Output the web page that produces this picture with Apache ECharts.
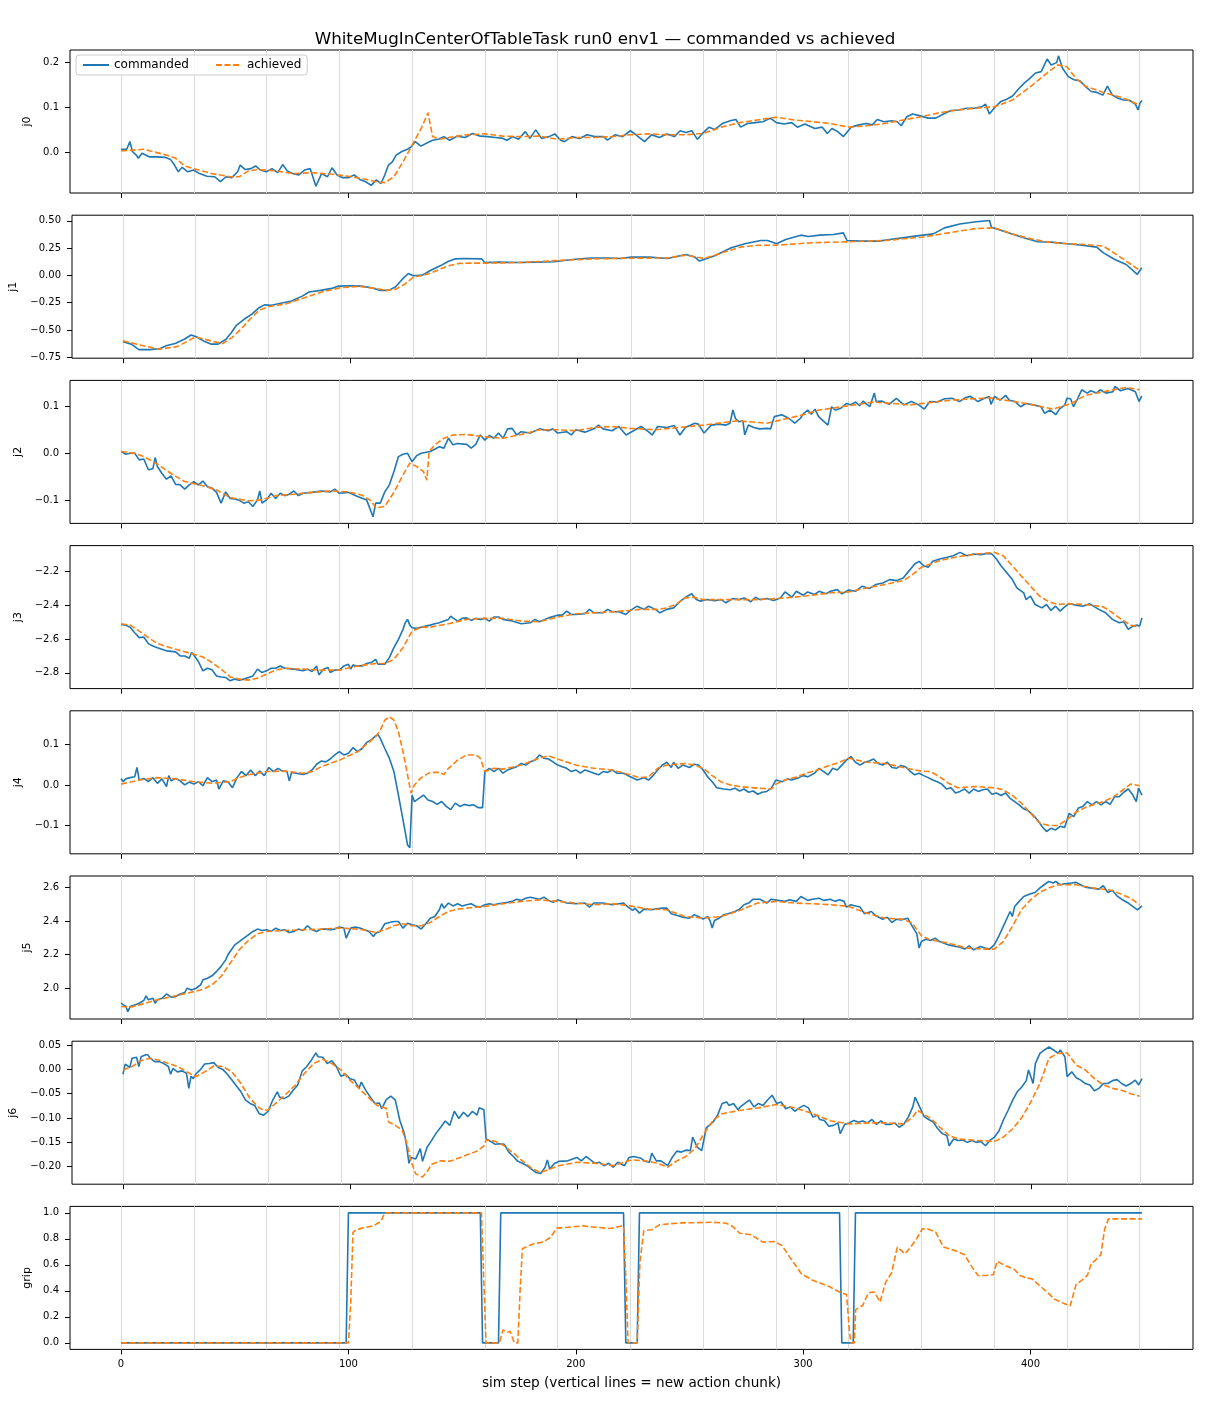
<!DOCTYPE html>
<html>
<head>
<meta charset="utf-8">
<title>WhiteMugInCenterOfTableTask run0 env1 — commanded vs achieved</title>
<script src="https://cdn.jsdelivr.net/npm/echarts@6/dist/echarts.min.js"></script>
<style>
  html, body { margin: 0; padding: 0; background: #fff; }
  #chart { width: 1210px; height: 1408px; }
</style>
</head>
<body>
<div id="chart"></div>
<script>
// sim steps where a new action chunk starts
const chunkStarts = [0, 32, 64, 96, 128, 160, 192, 224, 256, 288, 320, 352, 384, 416, 448];
const xTicks = [0, 100, 200, 300, 400];

// [sim step, value]
const j0Cmd = [[0,0.007],[2.5,0.007],[3.9,0.024],[5,0.002],[6.7,-0.006],[7.6,-0.013],[9.2,-0.002],[12.6,-0.01],[16,-0.01],[19.3,-0.011],[21.8,-0.016],[23.5,-0.028],[25.2,-0.043],[26.9,-0.033],[29.4,-0.043],[31.9,-0.039],[34.5,-0.047],[37.8,-0.053],[41.2,-0.054],[43.7,-0.065],[46.2,-0.054],[48.7,-0.056],[51.3,-0.043],[52.4,-0.028],[54.6,-0.038],[57.1,-0.036],[59.2,-0.03],[61.3,-0.039],[63.9,-0.043],[66.4,-0.036],[68.9,-0.045],[71.1,-0.027],[73.1,-0.041],[75.6,-0.047],[78.2,-0.05],[80.7,-0.039],[83.2,-0.036],[85.7,-0.075],[88.2,-0.047],[90.8,-0.054],[92.8,-0.034],[95,-0.05],[97.5,-0.056],[100,-0.056],[102.5,-0.05],[105,-0.06],[107.6,-0.065],[110,-0.073],[112.3,-0.061],[114.3,-0.069],[116,-0.05],[117.6,-0.028],[119.3,-0.021],[121,-0.006],[123.5,0.002],[126,0.007],[127.7,0.013],[129.4,0.024],[131.9,0.014],[134.5,0.021],[137,0.027],[139.5,0.029],[142,0.035],[144.5,0.027],[147.9,0.036],[151.3,0.033],[154.6,0.042],[158,0.036],[161.3,0.035],[164.7,0.033],[168,0.031],[169.7,0.027],[172.3,0.035],[174.8,0.029],[177.8,0.046],[179.8,0.031],[182.4,0.05],[184.9,0.031],[188.2,0.035],[190.8,0.041],[193.3,0.027],[195,0.024],[198.3,0.035],[201.7,0.031],[205,0.039],[208.4,0.035],[212.2,0.035],[213.9,0.027],[217.2,0.039],[220.6,0.035],[224,0.048],[226.5,0.039],[230.2,0.024],[233.3,0.039],[236.7,0.033],[240,0.041],[243.4,0.035],[245.9,0.048],[248.5,0.044],[251,0.048],[253.5,0.029],[256.1,0.044],[258.6,0.056],[261.1,0.051],[264.5,0.064],[267.9,0.07],[270.4,0.073],[272.5,0.056],[275.5,0.064],[278.9,0.066],[282.3,0.068],[285.6,0.076],[288.2,0.066],[291.6,0.063],[294.9,0.066],[297.5,0.056],[300.8,0.063],[305.1,0.053],[308.4,0.056],[310.6,0.042],[312.7,0.053],[315.2,0.046],[317.7,0.035],[321.1,0.056],[324.5,0.061],[327.9,0.064],[330.4,0.061],[332.6,0.073],[335.5,0.068],[338.9,0.07],[341.4,0.068],[343.1,0.059],[345.6,0.079],[348.1,0.085],[351.5,0.081],[354.9,0.076],[358.3,0.076],[361.7,0.085],[365,0.093],[368.4,0.094],[371.8,0.098],[375.2,0.098],[378.5,0.101],[380.2,0.107],[381.9,0.085],[384.5,0.101],[387,0.113],[389.5,0.118],[392.1,0.125],[394.6,0.14],[397.1,0.153],[399.7,0.164],[402.2,0.176],[404.7,0.179],[407.3,0.207],[409,0.194],[411.5,0.199],[412.3,0.214],[414,0.187],[416.6,0.168],[419.1,0.161],[421.6,0.159],[424.2,0.146],[426.7,0.135],[429.2,0.133],[431.8,0.127],[433.8,0.147],[436,0.127],[438.5,0.12],[441,0.116],[443.6,0.115],[446.1,0.107],[447.3,0.094],[448.1,0.109],[449,0.115]];
const j0Ach = [[0,0.003],[10,0.007],[20,-0.006],[24,-0.013],[28,-0.03],[32,-0.036],[40,-0.047],[48,-0.054],[52,-0.054],[56,-0.041],[60,-0.038],[68,-0.041],[76,-0.047],[84,-0.045],[92,-0.048],[100,-0.053],[108,-0.06],[112,-0.065],[116,-0.067],[120,-0.054],[124,-0.021],[128,0.016],[132,0.053],[135,0.088],[137,0.035],[140,0.029],[144,0.033],[152,0.039],[160,0.041],[168,0.036],[176,0.035],[184,0.036],[192,0.029],[200,0.033],[208,0.033],[216,0.035],[224,0.039],[232,0.041],[240,0.039],[248,0.039],[256,0.042],[264,0.056],[272,0.066],[280,0.072],[288,0.078],[296,0.072],[304,0.068],[312,0.064],[320,0.056],[328,0.059],[336,0.064],[344,0.072],[352,0.079],[360,0.088],[368,0.094],[376,0.098],[384,0.101],[392,0.116],[400,0.146],[408,0.179],[412,0.194],[416,0.19],[420,0.164],[424,0.147],[432,0.133],[440,0.122],[448,0.105]];

const j1Cmd = [[0,-0.607],[3.7,-0.63],[7,-0.68],[12,-0.68],[16.5,-0.67],[19,-0.645],[23,-0.625],[27,-0.585],[30,-0.546],[32.6,-0.565],[36,-0.607],[39,-0.63],[42,-0.63],[45.4,-0.585],[47.8,-0.524],[50,-0.457],[53.5,-0.40],[56.7,-0.357],[60,-0.296],[62.3,-0.27],[65.5,-0.274],[69.5,-0.256],[74.3,-0.235],[79,-0.19],[82,-0.152],[87,-0.137],[92,-0.119],[95,-0.098],[100,-0.095],[105,-0.098],[109.6,-0.113],[113,-0.137],[117,-0.137],[120,-0.107],[123,-0.037],[125.7,0.018],[128,-0.003],[132,0.003],[135,0.04],[140,0.09],[143,0.125],[146.5,0.152],[150,0.155],[158,0.152],[159.4,0.119],[165.8,0.122],[174,0.119],[182,0.122],[190,0.125],[198,0.146],[206,0.16],[214,0.16],[219,0.155],[224,0.168],[232,0.168],[240,0.155],[248,0.192],[252,0.168],[254,0.131],[256,0.146],[261,0.183],[268,0.253],[274,0.29],[281,0.32],[284,0.32],[288,0.29],[292,0.33],[298.7,0.369],[302,0.357],[307,0.369],[313,0.375],[317.4,0.39],[319,0.32],[324.8,0.314],[333,0.314],[341,0.338],[349,0.36],[357,0.381],[362,0.436],[368.7,0.472],[375,0.49],[381.8,0.503],[382.6,0.442],[388,0.405],[394.8,0.36],[398,0.338],[403,0.308],[409,0.305],[416,0.29],[422.5,0.277],[429,0.259],[432,0.207],[437,0.146],[442,0.10],[446.9,0.01],[448.9,0.07]];
const j1Ach = [[0,-0.60],[8,-0.64],[16,-0.677],[24,-0.652],[32,-0.564],[40,-0.607],[44,-0.625],[48,-0.57],[52,-0.494],[56,-0.40],[60,-0.32],[64,-0.287],[72,-0.26],[80,-0.204],[88,-0.149],[96,-0.113],[104,-0.10],[112,-0.122],[116,-0.137],[120,-0.128],[124,-0.082],[128,-0.015],[132,0.0],[136,0.024],[140,0.061],[144,0.091],[148,0.11],[152,0.113],[160,0.113],[176,0.119],[192,0.137],[208,0.152],[224,0.158],[240,0.16],[248,0.186],[256,0.155],[264,0.207],[272,0.259],[280,0.277],[288,0.277],[304,0.30],[320,0.308],[336,0.32],[352,0.35],[368,0.405],[376,0.43],[384,0.436],[392,0.38],[400,0.335],[408,0.305],[416,0.29],[424,0.284],[432,0.268],[440,0.16],[448,0.046]];

const j2Cmd = [[0,0.004],[2,-0.002],[4,0],[6,0],[8,-0.014],[10,-0.012],[12,-0.035],[14,-0.033],[15,-0.009],[16,-0.028],[18,-0.043],[20,-0.055],[22,-0.048],[24,-0.066],[26,-0.067],[28,-0.076],[30,-0.067],[32,-0.06],[34,-0.067],[36,-0.059],[38,-0.071],[40,-0.074],[42,-0.083],[44,-0.106],[46,-0.082],[48,-0.096],[50,-0.097],[52,-0.10],[54,-0.106],[56,-0.103],[58,-0.113],[60,-0.099],[61,-0.08],[62,-0.106],[64,-0.099],[66,-0.085],[68,-0.096],[70,-0.085],[72,-0.09],[74,-0.087],[76,-0.08],[78,-0.09],[80,-0.085],[84,-0.083],[88,-0.08],[92,-0.082],[94,-0.076],[96,-0.085],[100,-0.083],[104,-0.092],[108,-0.099],[110.8,-0.135],[112,-0.106],[114,-0.106],[116,-0.082],[118,-0.067],[120,-0.039],[122,-0.007],[124,-0.002],[126,0.0],[128,-0.018],[130,-0.005],[132,0],[136,0.004],[140,0.014],[142,0.011],[144,0.032],[146,0.018],[148,0.021],[152,0.019],[154,0.011],[156,0.019],[158,0.039],[160,0.028],[162,0.038],[164,0.032],[166,0.043],[168,0.032],[170,0.052],[172,0.053],[174,0.039],[176,0.046],[180,0.043],[184,0.052],[188,0.048],[190,0.052],[192,0.043],[196,0.046],[198,0.039],[200,0.05],[204,0.045],[208,0.052],[210,0.06],[212,0.052],[216,0.048],[218.9,0.057],[222.1,0.039],[225.4,0.048],[228.7,0.057],[231.9,0.046],[233.6,0.039],[236,0.057],[240.1,0.055],[243.3,0.059],[245.8,0.039],[248.2,0.055],[252.3,0.064],[253.9,0.062],[256.4,0.043],[259.6,0.06],[262.9,0.062],[266.1,0.06],[267.8,0.064],[269.1,0.092],[270.2,0.074],[271.8,0.067],[273.5,0.069],[274.3,0.039],[275.9,0.06],[278.3,0.055],[280.8,0.052],[284,0.053],[285.7,0.052],[287.3,0.078],[290.6,0.082],[293.8,0.074],[296.3,0.064],[298.7,0.074],[300.3,0.085],[302,0.092],[303.6,0.083],[305.2,0.094],[306.8,0.078],[309.3,0.067],[310.9,0.06],[312.5,0.099],[314.2,0.092],[316.6,0.096],[319.1,0.106],[320.7,0.103],[323.1,0.109],[324.8,0.101],[326.4,0.111],[328,0.104],[329.3,0.099],[331.3,0.128],[332.1,0.11],[334.5,0.111],[337.8,0.104],[341,0.117],[344.3,0.103],[347.6,0.11],[350.8,0.103],[353.3,0.094],[355.7,0.11],[359,0.109],[362.2,0.116],[365.5,0.117],[368.7,0.11],[371.2,0.118],[373.6,0.121],[376.9,0.11],[379.3,0.116],[381.8,0.121],[382.6,0.104],[384.2,0.121],[386.6,0.113],[389.1,0.123],[390.7,0.113],[393.2,0.11],[395.6,0.099],[398,0.106],[401.3,0.103],[404.6,0.099],[406.2,0.085],[408.6,0.092],[411.1,0.082],[412.7,0.094],[415.1,0.103],[416,0.117],[417.6,0.116],[418.9,0.099],[420.8,0.117],[422.5,0.135],[424.9,0.128],[426.5,0.133],[429,0.128],[430.6,0.135],[433.1,0.128],[436.3,0.131],[437.1,0.142],[439.6,0.133],[442.8,0.138],[446.1,0.131],[447.7,0.11],[448.9,0.122]];
const j2Ach = [[0,0.004],[6,0.0],[10,-0.007],[16,-0.023],[22,-0.043],[28,-0.06],[36,-0.069],[42,-0.078],[48,-0.094],[56,-0.101],[62,-0.099],[68,-0.09],[76,-0.087],[84,-0.083],[92,-0.08],[100,-0.082],[106,-0.089],[110,-0.101],[112,-0.116],[116,-0.113],[120,-0.083],[124,-0.046],[127,-0.021],[130,-0.028],[133,-0.039],[134.5,-0.057],[135.5,0.004],[138,0.018],[142,0.032],[146,0.039],[152,0.04],[160,0.035],[168,0.032],[176,0.04],[184,0.05],[192,0.05],[200,0.048],[208,0.055],[216,0.057],[224,0.053],[235,0.05],[256,0.06],[271,0.069],[284,0.064],[287,0.067],[300,0.082],[307,0.092],[317,0.099],[331,0.109],[347,0.103],[365,0.113],[382,0.118],[398,0.106],[410,0.094],[418,0.106],[424,0.123],[431,0.13],[442,0.14],[448,0.135]];

const j3Cmd = [[0,-2.514],[2,-2.518],[4,-2.53],[6,-2.563],[8,-2.592],[10,-2.588],[12,-2.627],[14,-2.641],[16,-2.651],[20,-2.67],[24,-2.676],[26,-2.70],[28,-2.70],[30,-2.714],[31,-2.68],[32,-2.694],[34,-2.733],[36,-2.788],[38,-2.773],[40,-2.782],[42,-2.818],[44,-2.824],[46,-2.827],[48,-2.847],[50,-2.837],[52,-2.843],[54,-2.837],[56,-2.827],[58,-2.818],[60,-2.778],[62,-2.798],[64,-2.788],[66,-2.773],[68,-2.773],[70,-2.759],[72,-2.773],[76,-2.778],[80,-2.788],[82,-2.778],[84,-2.792],[86,-2.759],[87,-2.812],[89,-2.778],[91,-2.769],[92,-2.798],[94,-2.784],[96,-2.784],[98,-2.759],[100,-2.749],[101,-2.778],[102,-2.753],[104,-2.759],[106,-2.759],[108,-2.745],[110,-2.739],[112,-2.72],[113,-2.749],[116,-2.749],[118,-2.71],[120,-2.651],[122,-2.602],[124,-2.543],[125,-2.504],[126,-2.484],[127,-2.518],[128,-2.533],[130,-2.537],[132,-2.53],[134,-2.524],[136,-2.518],[138,-2.51],[140,-2.504],[142,-2.494],[144,-2.484],[145,-2.465],[146,-2.475],[148,-2.494],[150,-2.478],[152,-2.475],[154,-2.49],[156,-2.478],[158,-2.484],[160,-2.478],[162,-2.494],[164,-2.47],[166,-2.47],[168,-2.484],[172,-2.494],[176,-2.51],[180,-2.504],[182,-2.484],[184,-2.498],[188,-2.475],[192,-2.459],[194,-2.459],[196,-2.435],[198,-2.455],[200,-2.455],[204,-2.451],[206,-2.425],[208,-2.445],[212,-2.445],[214,-2.425],[216,-2.439],[219,-2.439],[222,-2.455],[224,-2.431],[227,-2.406],[230,-2.425],[232,-2.406],[235,-2.425],[237,-2.445],[240,-2.425],[243,-2.416],[246,-2.376],[249,-2.347],[251,-2.333],[253,-2.367],[254.6,-2.376],[258,-2.367],[261,-2.373],[264,-2.367],[266,-2.386],[269,-2.361],[272,-2.367],[274,-2.357],[277,-2.38],[279,-2.353],[281,-2.367],[284,-2.361],[287,-2.373],[290,-2.357],[292,-2.322],[295,-2.353],[297,-2.318],[300,-2.341],[302,-2.322],[305,-2.337],[307,-2.318],[310,-2.333],[312,-2.318],[315,-2.308],[317,-2.333],[320,-2.31],[323,-2.318],[326,-2.288],[329,-2.302],[332,-2.278],[335,-2.269],[338,-2.249],[341,-2.255],[344,-2.239],[347,-2.19],[349,-2.157],[351,-2.141],[353,-2.167],[355,-2.176],[357,-2.141],[360,-2.127],[363,-2.118],[366,-2.108],[369,-2.088],[372,-2.108],[375,-2.098],[378,-2.102],[381,-2.094],[383,-2.098],[385,-2.127],[387,-2.167],[390,-2.216],[392,-2.249],[394,-2.298],[397,-2.327],[398,-2.367],[400,-2.347],[402,-2.396],[405,-2.416],[407,-2.396],[409,-2.431],[411,-2.406],[413,-2.435],[415,-2.41],[417,-2.39],[420,-2.40],[423,-2.406],[426,-2.392],[430,-2.425],[433,-2.445],[436,-2.484],[439,-2.504],[441,-2.498],[443,-2.543],[445,-2.524],[447,-2.518],[448,-2.524],[449,-2.475]];
const j3Ach = [[0,-2.51],[4,-2.518],[8,-2.553],[12,-2.592],[16,-2.627],[24,-2.661],[32,-2.69],[36,-2.706],[40,-2.739],[44,-2.778],[48,-2.824],[52,-2.837],[56,-2.843],[60,-2.831],[64,-2.808],[68,-2.784],[72,-2.773],[80,-2.778],[88,-2.784],[96,-2.784],[104,-2.759],[112,-2.745],[116,-2.745],[120,-2.72],[124,-2.651],[128,-2.553],[132,-2.53],[136,-2.53],[144,-2.51],[152,-2.484],[160,-2.478],[168,-2.478],[176,-2.494],[184,-2.498],[192,-2.47],[200,-2.451],[208,-2.445],[216,-2.439],[224,-2.431],[228,-2.425],[236,-2.425],[240,-2.416],[244,-2.396],[248,-2.357],[252,-2.353],[256,-2.367],[264,-2.367],[272,-2.367],[280,-2.367],[288,-2.361],[296,-2.353],[304,-2.341],[312,-2.327],[320,-2.322],[328,-2.298],[336,-2.278],[344,-2.255],[348,-2.22],[352,-2.176],[360,-2.137],[368,-2.114],[376,-2.098],[384,-2.088],[388,-2.108],[392,-2.167],[396,-2.229],[400,-2.288],[404,-2.347],[408,-2.38],[412,-2.396],[416,-2.392],[424,-2.396],[432,-2.41],[436,-2.445],[440,-2.484],[444,-2.518],[448,-2.529]];

const j4Cmd = [[0,0.016],[1,0.008],[2,0.015],[4,0.018],[6,0.02],[7,0.043],[8,0.012],[10,0.016],[12,0.008],[14,0.018],[16,0.004],[18,0.015],[20,-0.004],[21,0.023],[22,0.01],[24,0.016],[26,0.01],[28,0.0],[30,0.007],[32,0.002],[34,0.008],[36,-0.002],[38,0.018],[40,0.008],[42,0.012],[43,-0.01],[45,0.01],[47,0.008],[49,-0.007],[51,0.018],[53,0.033],[55,0.023],[57,0.037],[59,0.023],[61,0.034],[63,0.023],[65,0.043],[67,0.033],[69,0.041],[71,0.034],[73,0.033],[74,0.01],[75,0.031],[77,0.029],[80,0.026],[82,0.029],[84,0.037],[86,0.051],[88,0.059],[90,0.057],[92,0.064],[94,0.074],[96,0.082],[98,0.074],[100,0.078],[102,0.092],[104,0.082],[106,0.09],[108,0.105],[110,0.111],[112,0.121],[113,0.125],[114,0.115],[116,0.09],[118,0.066],[120,0.033],[122,-0.025],[124,-0.086],[126,-0.148],[127,-0.155],[128,-0.025],[129,-0.041],[131,-0.033],[133,-0.025],[135,-0.037],[137,-0.041],[139,-0.048],[141,-0.041],[143,-0.053],[145,-0.061],[147,-0.045],[149,-0.053],[151,-0.048],[153,-0.051],[155,-0.049],[157,-0.056],[159,-0.056],[160,0.033],[162,0.041],[164,0.033],[166,0.041],[168,0.029],[170,0.037],[172,0.041],[174,0.045],[176,0.053],[178,0.049],[180,0.057],[182,0.061],[184,0.074],[186,0.066],[188,0.064],[190,0.057],[192,0.049],[194,0.045],[196,0.041],[198,0.033],[200,0.037],[202,0.029],[204,0.037],[206,0.033],[208,0.029],[210,0.025],[212,0.033],[214,0.031],[216,0.037],[218,0.029],[221,0.029],[224,0.02],[227,0.012],[230,0.018],[232,0.012],[234,0.023],[236,0.037],[238,0.049],[240,0.056],[242,0.043],[243,0.056],[245,0.041],[247,0.049],[250,0.043],[252,0.051],[254,0.049],[256,0.037],[258,0.02],[260,0.008],[262,-0.007],[265,-0.01],[268,-0.012],[270,-0.008],[272,-0.015],[274,-0.01],[276,-0.018],[278,-0.015],[280,-0.023],[282,-0.018],[284,-0.016],[286,-0.008],[288,0.012],[291,0.008],[293,0.015],[295,0.012],[298,0.018],[300,0.023],[302,0.02],[305,0.029],[307,0.041],[309,0.033],[311,0.025],[313,0.041],[315,0.037],[317,0.049],[319,0.061],[321,0.07],[323,0.056],[325,0.049],[327,0.056],[329,0.059],[331,0.064],[333,0.053],[335,0.049],[337,0.056],[339,0.043],[341,0.041],[343,0.048],[345,0.045],[347,0.034],[349,0.025],[351,0.029],[353,0.023],[355,0.018],[357,0.012],[359,0.008],[361,0.002],[363,-0.01],[365,-0.007],[367,-0.02],[369,-0.016],[371,-0.01],[373,-0.02],[375,-0.01],[377,-0.016],[379,-0.012],[381,-0.01],[383,-0.023],[385,-0.02],[387,-0.026],[389,-0.02],[391,-0.033],[393,-0.041],[395,-0.049],[397,-0.059],[399,-0.064],[401,-0.074],[403,-0.086],[405,-0.102],[407,-0.115],[409,-0.107],[411,-0.111],[413,-0.102],[415,-0.105],[417,-0.07],[419,-0.078],[421,-0.057],[423,-0.053],[425,-0.041],[427,-0.049],[429,-0.041],[431,-0.049],[433,-0.041],[435,-0.048],[437,-0.029],[439,-0.029],[441,-0.018],[443,-0.01],[445,-0.025],[446.5,-0.041],[447.5,-0.008],[449,-0.025]];
const j4Ach = [[0,0.002],[8,0.012],[16,0.018],[24,0.015],[32,0.008],[40,0.004],[48,0.008],[52,0.018],[56,0.025],[64,0.033],[72,0.034],[80,0.029],[84,0.033],[88,0.045],[96,0.061],[104,0.082],[112,0.119],[114,0.135],[116,0.16],[118,0.168],[120,0.16],[122,0.131],[124,0.082],[126,0.025],[127.5,-0.02],[129,0.0],[132,0.018],[136,0.031],[140,0.031],[142,0.026],[144,0.041],[148,0.061],[152,0.074],[156,0.074],[158,0.066],[160,0.033],[164,0.041],[168,0.039],[176,0.049],[184,0.066],[188,0.072],[192,0.064],[200,0.049],[208,0.041],[216,0.037],[224,0.025],[228,0.018],[232,0.02],[236,0.041],[240,0.049],[244,0.051],[248,0.053],[252,0.049],[256,0.041],[260,0.023],[264,0.007],[268,0.0],[272,-0.004],[280,-0.008],[286,-0.01],[288,0.002],[292,0.012],[296,0.018],[300,0.026],[304,0.033],[308,0.041],[312,0.049],[316,0.056],[320,0.066],[324,0.061],[328,0.056],[336,0.053],[344,0.043],[352,0.034],[356,0.033],[360,0.02],[364,0.004],[368,-0.007],[376,-0.004],[384,-0.007],[388,-0.012],[392,-0.026],[396,-0.045],[400,-0.07],[404,-0.094],[408,-0.10],[412,-0.10],[416,-0.086],[420,-0.067],[424,-0.056],[428,-0.048],[432,-0.041],[436,-0.031],[440,-0.015],[444,0.002],[448,-0.002]];

const j5Cmd = [[0,1.911],[1,1.901],[2,1.895],[3,1.861],[4,1.891],[6,1.901],[8,1.911],[10,1.927],[11,1.955],[12,1.931],[14,1.94],[15,1.911],[16,1.931],[18,1.94],[20,1.966],[22,1.947],[24,1.95],[26,1.966],[28,1.974],[29,2.0],[31,1.99],[33,2.0],[35,2.02],[36,2.05],[38,2.06],[40,2.074],[42,2.10],[44,2.13],[46,2.169],[47,2.199],[48,2.219],[50,2.258],[52,2.278],[54,2.298],[56,2.318],[58,2.338],[60,2.352],[62,2.344],[64,2.348],[66,2.338],[68,2.358],[70,2.344],[72,2.348],[74,2.332],[76,2.338],[78,2.352],[80,2.344],[82,2.372],[84,2.348],[86,2.338],[88,2.352],[90,2.352],[92,2.348],[94,2.352],[96,2.364],[98,2.358],[99,2.298],[101,2.358],[103,2.364],[105,2.358],[107,2.348],[109,2.338],[111,2.308],[112,2.328],[114,2.338],[116,2.384],[118,2.391],[120,2.397],[122,2.397],[124,2.358],[126,2.387],[128,2.378],[130,2.372],[132,2.352],[134,2.384],[136,2.417],[138,2.427],[140,2.467],[141,2.503],[142,2.477],[144,2.507],[146,2.49],[148,2.503],[150,2.49],[152,2.497],[154,2.503],[156,2.487],[158,2.483],[160,2.497],[162,2.503],[164,2.497],[166,2.503],[168,2.507],[170,2.511],[172,2.517],[174,2.53],[176,2.523],[178,2.536],[180,2.542],[182,2.536],[184,2.53],[186,2.542],[188,2.523],[190,2.511],[192,2.526],[196,2.507],[200,2.503],[204,2.507],[206,2.483],[208,2.507],[212,2.507],[216,2.497],[219,2.503],[221,2.507],[223,2.483],[225,2.463],[226,2.477],[228,2.447],[230,2.471],[233,2.467],[235,2.471],[238,2.477],[240,2.477],[242,2.443],[245,2.431],[247,2.423],[250,2.417],[252,2.437],[254,2.427],[256,2.411],[258,2.427],[259,2.403],[260,2.358],[261,2.403],[263,2.417],[265,2.437],[267,2.443],[270,2.457],[272,2.471],[274,2.497],[276,2.507],[278,2.53],[281,2.53],[284,2.507],[286,2.53],[289,2.523],[292,2.517],[294,2.526],[297,2.517],[299,2.546],[302,2.523],[304,2.53],[307,2.536],[309,2.523],[312,2.53],[314,2.517],[316,2.526],[318,2.517],[319,2.483],[321,2.497],[323,2.49],[325,2.483],[327,2.443],[330,2.457],[332,2.431],[335,2.411],[337,2.423],[339,2.391],[341,2.411],[343,2.407],[346,2.417],[348,2.368],[350,2.324],[351,2.239],[352,2.278],[354,2.292],[356,2.284],[358,2.298],[360,2.278],[362,2.268],[364,2.258],[366,2.252],[369,2.244],[371,2.233],[373,2.252],[375,2.229],[378,2.248],[380,2.239],[382,2.233],[384,2.258],[386,2.308],[388,2.368],[390,2.427],[391,2.457],[392,2.427],[393,2.487],[395,2.517],[397,2.546],[400,2.562],[402,2.57],[404,2.596],[406,2.616],[408,2.636],[410,2.626],[411,2.636],[413,2.616],[415,2.622],[418,2.626],[420,2.63],[422,2.616],[424,2.602],[427,2.596],[430,2.59],[432,2.61],[434,2.57],[436,2.582],[438,2.55],[440,2.53],[443,2.507],[447,2.467],[449,2.49]];
const j5Ach = [[0,1.891],[4,1.887],[8,1.901],[16,1.931],[24,1.955],[32,1.98],[36,1.994],[40,2.02],[44,2.07],[48,2.149],[52,2.229],[56,2.284],[60,2.324],[64,2.338],[72,2.344],[80,2.348],[88,2.352],[96,2.358],[104,2.352],[108,2.344],[112,2.332],[116,2.348],[120,2.372],[124,2.384],[128,2.372],[132,2.372],[136,2.391],[140,2.427],[144,2.457],[148,2.471],[152,2.477],[160,2.487],[168,2.503],[176,2.517],[184,2.526],[192,2.517],[200,2.507],[208,2.497],[216,2.503],[224,2.49],[232,2.471],[240,2.467],[248,2.427],[256,2.417],[264,2.427],[272,2.463],[280,2.507],[288,2.517],[296,2.507],[304,2.503],[312,2.497],[320,2.487],[328,2.447],[336,2.417],[344,2.411],[348,2.387],[352,2.312],[356,2.288],[364,2.268],[372,2.239],[380,2.233],[384,2.233],[388,2.278],[392,2.368],[396,2.467],[400,2.526],[404,2.57],[408,2.596],[412,2.616],[420,2.616],[428,2.596],[436,2.582],[444,2.536],[448,2.497]];

const j6Cmd = [[0,-0.01],[1,0.011],[3,0.004],[4,0.023],[6,0.025],[7,0.006],[8,0.026],[10,0.03],[11,0.03],[12,0.023],[14,0.016],[16,0.016],[18,0.012],[20,0.006],[21,-0.01],[22,0.002],[24,-0.005],[26,-0.003],[28,-0.008],[29,-0.039],[30,-0.014],[31,-0.019],[32,-0.01],[34,-0.001],[36,0.011],[38,0.012],[40,0.014],[42,0.004],[44,0.0],[46,-0.01],[48,-0.022],[50,-0.034],[52,-0.046],[54,-0.063],[56,-0.07],[58,-0.074],[60,-0.091],[62,-0.094],[64,-0.086],[66,-0.063],[68,-0.046],[69,-0.057],[71,-0.06],[73,-0.055],[75,-0.043],[77,-0.032],[79,-0.003],[81,0.006],[83,0.019],[85,0.034],[86,0.026],[88,0.025],[90,0.012],[92,0.018],[94,0.006],[96,-0.014],[98,-0.01],[100,-0.019],[102,-0.022],[104,-0.039],[105,-0.026],[107,-0.043],[109,-0.057],[111,-0.07],[113,-0.069],[114,-0.081],[116,-0.062],[118,-0.055],[120,-0.063],[122,-0.105],[124,-0.132],[125,-0.157],[126,-0.193],[127,-0.181],[129,-0.184],[131,-0.163],[132,-0.189],[134,-0.16],[136,-0.146],[138,-0.131],[140,-0.119],[142,-0.106],[144,-0.115],[146,-0.086],[148,-0.101],[150,-0.088],[152,-0.097],[154,-0.086],[156,-0.094],[157,-0.079],[159,-0.083],[160,-0.143],[162,-0.148],[164,-0.154],[166,-0.153],[168,-0.154],[170,-0.17],[172,-0.179],[174,-0.189],[176,-0.193],[178,-0.198],[180,-0.205],[182,-0.212],[184,-0.214],[186,-0.201],[187,-0.186],[188,-0.205],[190,-0.194],[192,-0.189],[196,-0.188],[200,-0.181],[202,-0.188],[204,-0.179],[206,-0.186],[208,-0.193],[210,-0.191],[212,-0.198],[214,-0.193],[216,-0.201],[218,-0.191],[221,-0.198],[223,-0.181],[225,-0.179],[228,-0.182],[230,-0.189],[232,-0.191],[233,-0.172],[235,-0.188],[237,-0.188],[240,-0.198],[242,-0.181],[244,-0.168],[246,-0.17],[248,-0.166],[250,-0.167],[251,-0.139],[253,-0.16],[255,-0.167],[257,-0.12],[260,-0.108],[262,-0.094],[264,-0.07],[266,-0.067],[267,-0.074],[269,-0.07],[271,-0.083],[272,-0.077],[274,-0.07],[276,-0.063],[278,-0.077],[280,-0.07],[282,-0.074],[284,-0.063],[286,-0.053],[288,-0.07],[290,-0.067],[292,-0.081],[294,-0.077],[296,-0.086],[298,-0.079],[300,-0.074],[302,-0.079],[304,-0.098],[306,-0.094],[307,-0.103],[309,-0.105],[311,-0.117],[313,-0.115],[315,-0.11],[316,-0.132],[318,-0.113],[320,-0.11],[322,-0.105],[324,-0.108],[326,-0.106],[328,-0.11],[330,-0.103],[332,-0.113],[334,-0.106],[336,-0.113],[338,-0.113],[340,-0.11],[342,-0.119],[344,-0.113],[346,-0.098],[348,-0.077],[349,-0.057],[351,-0.077],[353,-0.097],[355,-0.103],[357,-0.108],[359,-0.122],[361,-0.132],[363,-0.136],[364,-0.157],[366,-0.143],[368,-0.146],[370,-0.145],[372,-0.15],[374,-0.146],[376,-0.15],[378,-0.148],[380,-0.157],[382,-0.146],[384,-0.139],[386,-0.126],[388,-0.103],[390,-0.084],[392,-0.063],[394,-0.046],[396,-0.036],[398,-0.023],[399,-0.001],[401,-0.029],[402,0.012],[404,0.033],[406,0.04],[408,0.046],[410,0.04],[412,0.033],[413,0.04],[415,0.026],[416,-0.015],[418,-0.005],[420,-0.017],[422,-0.022],[424,-0.029],[426,-0.032],[428,-0.044],[430,-0.039],[432,-0.029],[434,-0.029],[436,-0.023],[438,-0.021],[440,-0.029],[442,-0.034],[444,-0.029],[446,-0.022],[447.5,-0.032],[449,-0.019]];
const j6Ach = [[0,-0.001],[4,0.006],[8,0.018],[12,0.023],[16,0.019],[24,0.006],[32,-0.015],[36,-0.005],[40,0.007],[44,0.006],[48,-0.005],[52,-0.029],[56,-0.06],[60,-0.079],[62,-0.084],[64,-0.083],[68,-0.067],[72,-0.05],[76,-0.032],[80,-0.008],[84,0.012],[88,0.021],[92,0.012],[96,-0.001],[100,-0.022],[104,-0.039],[108,-0.057],[112,-0.074],[116,-0.08],[117,-0.108],[120,-0.115],[123,-0.125],[125,-0.15],[127,-0.19],[129,-0.215],[132,-0.221],[134,-0.21],[136,-0.195],[140,-0.188],[144,-0.189],[148,-0.182],[152,-0.175],[156,-0.168],[159,-0.157],[160,-0.145],[164,-0.148],[168,-0.157],[172,-0.172],[176,-0.188],[180,-0.203],[184,-0.212],[188,-0.205],[192,-0.198],[200,-0.191],[208,-0.193],[216,-0.198],[224,-0.186],[232,-0.189],[236,-0.194],[240,-0.201],[244,-0.188],[248,-0.179],[252,-0.163],[256,-0.132],[260,-0.105],[264,-0.091],[272,-0.084],[280,-0.079],[288,-0.072],[296,-0.079],[304,-0.091],[312,-0.106],[320,-0.112],[328,-0.11],[336,-0.11],[344,-0.112],[348,-0.098],[350,-0.084],[352,-0.09],[356,-0.101],[360,-0.119],[364,-0.136],[368,-0.143],[376,-0.146],[384,-0.148],[388,-0.139],[392,-0.122],[396,-0.099],[400,-0.067],[404,-0.029],[408,0.023],[412,0.033],[416,0.034],[420,0.009],[424,-0.001],[428,-0.019],[432,-0.032],[436,-0.039],[440,-0.043],[444,-0.05],[448,-0.055]];

const gripCmd = [[0,0],[99,0],[100,1],[158,1],[159,0],[166,0],[167,1],[221,1],[222,0],[227,0],[228,1],[316,1],[317,0],[322,0],[323,1],[449,1]];
const gripAch = [[0,0],[100,0],[101,0.3],[102,0.85],[103.4,0.87],[105.9,0.883],[111,0.9],[114.3,0.936],[116,1.0],[158.5,1.0],[159.5,0.5],[160.5,0],[166.4,0],[168,0.1],[169.7,0.08],[171,0.09],[173,0],[174.5,0],[175.5,0.4],[176.5,0.725],[177.3,0.73],[181.5,0.763],[185.7,0.776],[189,0.814],[191.6,0.883],[196.6,0.89],[203.4,0.9],[208.4,0.89],[215,0.88],[219.8,0.898],[221,0.9],[222,0.5],[223,0],[227,0],[228.2,0.62],[229.9,0.864],[233.3,0.87],[236.7,0.908],[240.9,0.916],[246.8,0.923],[253.5,0.925],[260.3,0.928],[266.2,0.92],[268.8,0.898],[272.1,0.844],[277.2,0.831],[282.3,0.775],[287.3,0.78],[290.7,0.749],[294.1,0.66],[299.2,0.532],[304.2,0.481],[311,0.437],[316,0.391],[319.1,0.371],[320.3,0.1],[321,0],[322.5,0],[323.1,0.256],[326.2,0.289],[328.7,0.386],[331.3,0.391],[333.8,0.315],[336.3,0.468],[338.9,0.54],[341.4,0.737],[344.8,0.685],[347.3,0.737],[349.8,0.80],[352.4,0.877],[354.9,0.877],[358.3,0.852],[361.7,0.737],[365,0.72],[368.4,0.698],[371,0.678],[374.3,0.583],[376.9,0.519],[380.2,0.519],[383.6,0.524],[385.3,0.627],[388.7,0.596],[392.9,0.565],[395.4,0.519],[398,0.5],[400.5,0.494],[403.9,0.442],[407.3,0.391],[410.6,0.335],[414.9,0.302],[417.4,0.284],[420,0.448],[422.5,0.481],[425,0.519],[426.7,0.609],[429.2,0.647],[430.9,0.678],[432.6,0.877],[434.3,0.954],[449,0.954]];

// y tick values and their labels (matplotlib style minus sign)
const j0Ticks = [0, 0.1, 0.2];
const j0Labels = ['0.0', '0.1', '0.2'];
const j1Ticks = [-0.75, -0.5, -0.25, 0, 0.25, 0.5];
const j1Labels = ['\u22120.75', '\u22120.50', '\u22120.25', '0.00', '0.25', '0.50'];
const j2Ticks = [-0.1, 0, 0.1];
const j2Labels = ['\u22120.1', '0.0', '0.1'];
const j3Ticks = [-2.8, -2.6, -2.4, -2.2];
const j3Labels = ['\u22122.8', '\u22122.6', '\u22122.4', '\u22122.2'];
const j4Ticks = [-0.1, 0, 0.1];
const j4Labels = ['\u22120.1', '0.0', '0.1'];
const j5Ticks = [2.0, 2.2, 2.4, 2.6];
const j5Labels = ['2.0', '2.2', '2.4', '2.6'];
const j6Ticks = [-0.2, -0.15, -0.1, -0.05, 0, 0.05];
const j6Labels = ['\u22120.20', '\u22120.15', '\u22120.10', '\u22120.05', '0.00', '0.05'];
const gripTicks = [0, 0.2, 0.4, 0.6, 0.8, 1.0];
const gripLabels = ['0.0', '0.2', '0.4', '0.6', '0.8', '1.0'];

const panels = [
    {name: 'j0', cmd: j0Cmd, ach: j0Ach, ticks: j0Ticks, labels: j0Labels, min: -0.09, max: 0.227, gap: 36},
    {name: 'j1', cmd: j1Cmd, ach: j1Ach, ticks: j1Ticks, labels: j1Labels, min: -0.759, max: 0.552, gap: 53},
    {name: 'j2', cmd: j2Cmd, ach: j2Ach, ticks: j2Ticks, labels: j2Labels, min: -0.149, max: 0.155, gap: 45},
    {name: 'j3', cmd: j3Cmd, ach: j3Ach, ticks: j3Ticks, labels: j3Labels, min: -2.893, max: -2.048, gap: 45},
    {name: 'j4', cmd: j4Cmd, ach: j4Ach, ticks: j4Ticks, labels: j4Labels, min: -0.17, max: 0.183, gap: 45},
    {name: 'j5', cmd: j5Cmd, ach: j5Ach, ticks: j5Ticks, labels: j5Labels, min: 1.817, max: 2.668, gap: 36},
    {name: 'j6', cmd: j6Cmd, ach: j6Ach, ticks: j6Ticks, labels: j6Labels, min: -0.236, max: 0.058, gap: 53},
    {name: 'grip', cmd: gripCmd, ach: gripAch, ticks: gripTicks, labels: gripLabels, min: -0.05, max: 1.05, gap: 36}
];

const FONT = 'DejaVu Sans';
const BLUE = '#1f77b4';
const ORANGE = '#ff7f0e';

const chart = echarts.init(document.getElementById('chart'));

const grids = [], xAxes = [], yAxes = [], series = [];

panels.forEach((p, i) => {
    const last = i === panels.length - 1;

    grids.push({
        left: 70, width: 1123, top: 50 + 165.2 * i, height: 143,
        show: true, borderColor: '#000', borderWidth: 1, backgroundColor: 'transparent'
    });

    xAxes.push({
        type: 'value', gridIndex: i, min: -22.45, max: 471.45,
        axisLine: {show: false, onZero: false},
        axisTick: {show: true, customValues: xTicks, length: 5, lineStyle: {color: '#000', width: 1}},
        axisLabel: {show: last, customValues: xTicks, margin: 10, fontSize: 10, color: '#000', fontFamily: FONT},
        splitLine: {show: false},
        name: last ? 'sim step (vertical lines = new action chunk)' : '',
        nameLocation: 'middle', nameGap: 27,
        nameTextStyle: {fontSize: 13.6, color: '#000', fontFamily: FONT}
    });

    yAxes.push({
        type: 'value', gridIndex: i, min: p.min, max: p.max,
        axisLine: {show: false, onZero: false},
        axisTick: {show: true, customValues: p.ticks, length: 5, lineStyle: {color: '#000', width: 1}},
        axisLabel: {
            customValues: p.ticks, margin: 11, fontSize: 10, color: '#000', fontFamily: FONT,
            formatter: v => {
                const k = p.ticks.findIndex(t => Math.abs(t - v) < 1e-9);
                return k >= 0 ? p.labels[k] : '';
            }
        },
        splitLine: {show: false},
        name: p.name, nameLocation: 'middle', nameGap: p.gap,
        nameTextStyle: {fontSize: 11, color: '#000', fontFamily: FONT}
    });

    series.push({
        name: 'commanded', type: 'line', xAxisIndex: i, yAxisIndex: i,
        data: p.cmd, symbol: 'none', showSymbol: false, z: 3,
        lineStyle: {color: BLUE, width: 1.6}, itemStyle: {color: BLUE},
        markLine: {
            silent: true, symbol: ['none', 'none'], z: 1, animation: false,
            label: {show: false},
            lineStyle: {color: '#dcdcdc', width: 1, type: 'solid'},
            emphasis: {disabled: true},
            data: chunkStarts.map(s => ({xAxis: s}))
        }
    });
    series.push({
        name: 'achieved', type: 'line', xAxisIndex: i, yAxisIndex: i,
        data: p.ach, symbol: 'none', showSymbol: false, z: 4,
        lineStyle: {color: ORANGE, width: 1.6, type: [6, 2.6]}, itemStyle: {color: ORANGE}
    });
});

const option = {
    backgroundColor: '#fff',
    animation: false,
    title: {
        text: 'WhiteMugInCenterOfTableTask run0 env1 \u2014 commanded vs achieved',
        left: 'center', top: 26,
        textStyle: {fontSize: 16.7, fontWeight: 'normal', color: '#000', fontFamily: FONT}
    },
    legend: {
        data: ['commanded', 'achieved'],
        left: 76, top: 55, orient: 'horizontal',
        itemWidth: 26, itemHeight: 14, itemGap: 26,
        padding: [4, 6, 4, 6],
        itemStyle: {color: 'transparent', borderColor: 'transparent', borderWidth: 0},
        borderColor: '#cccccc', borderWidth: 1, borderRadius: 3,
        backgroundColor: 'rgba(255,255,255,0.8)',
        textStyle: {fontSize: 12, color: '#000', fontFamily: FONT}
    },
    grid: grids,
    xAxis: xAxes,
    yAxis: yAxes,
    series: series
};

chart.setOption(option);
</script>
</body>
</html>
